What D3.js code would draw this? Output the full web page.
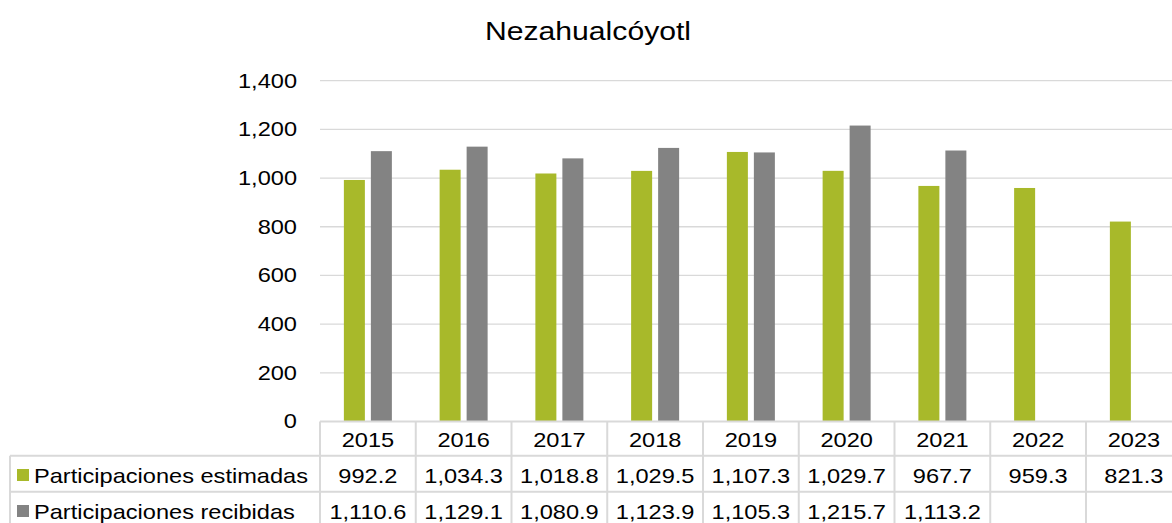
<!DOCTYPE html>
<html><head><meta charset="utf-8">
<script src="https://cdn.jsdelivr.net/npm/d3@7"></script>
<style>body{margin:0;background:#fff;overflow:hidden}svg{display:block;font-family:"Liberation Sans",Arial,sans-serif}</style>
</head><body>
<script>
const title = "Nezahualcóyotl";
const years = ["2015","2016","2017","2018","2019","2020","2021","2022","2023"];
const estimadas = [992.2,1034.3,1018.8,1029.5,1107.3,1029.7,967.7,959.3,821.3];
const recibidas = [1110.6,1129.1,1080.9,1123.9,1105.3,1215.7,1113.2,null,null];
const seriesNames = ["Participaciones estimadas","Participaciones recibidas"];
const seriesColors = ["#A8B92A","#838383"];
const yTicks = [0,200,400,600,800,1000,1200,1400];

const W=1172,H=523, SX=1.18, FS=20;
const svg=d3.select("body").append("svg").attr("width",W).attr("height",H);
const fmtTick=d3.format(",");
const fmtVal=d3.format(",.1f");

function addText(g,x0,y0,anchor,size,txt,sx){
  return g.append("text").attr("transform",`translate(${x0},${y0}) scale(${sx||SX},1)`)
    .attr("text-anchor",anchor).attr("font-size",size).attr("fill","#000").text(txt);
}

const x=d3.scaleBand().domain(years).range([320,1181.75]).paddingInner(0).paddingOuter(0);
const y=d3.scaleLinear().domain([0,1400]).range([421.5,80.7]);
const barW=21, gap=6;

addText(svg,588,39.5,"middle",26,title,1.16);

// gridlines
svg.append("g").selectAll("line").data(yTicks.filter(d=>d>0)).join("line")
  .attr("x1",320).attr("x2",W).attr("y1",d=>y(d)).attr("y2",d=>y(d))
  .attr("stroke","#d9d9d9").attr("stroke-width",1.3);

// y axis labels
const yAxis=d3.axisLeft(y).tickValues(yTicks).tickFormat(fmtTick).tickSize(0).tickPadding(0);
const ga=svg.append("g").attr("transform","translate(297,0)").call(yAxis);
ga.select(".domain").remove();
ga.selectAll("text").attr("font-size",FS).attr("fill","#000")
  .attr("font-family","Liberation Sans, Arial, sans-serif")
  .attr("transform",`scale(${SX},1)`);

// bars
const series=[estimadas,recibidas];
series.forEach((vals,si)=>{
  svg.append("g").selectAll("rect").data(years.map((yr,i)=>({yr,v:vals[i]})).filter(d=>d.v!=null)).join("rect")
    .attr("x",d=>x(d.yr)+x.bandwidth()/2+(si===0?-gap/2-barW:gap/2))
    .attr("width",barW)
    .attr("y",d=>y(d.v)).attr("height",d=>y(0)-y(d.v))
    .attr("fill",seriesColors[si]);
});

// table lines
const lc="#d9d9d9", lw=2;
const rowTop=421.5, r1=455.7, r2=491.7, r3=527.7;
const tl=svg.append("g").attr("stroke",lc).attr("stroke-width",lw);
tl.append("line").attr("x1",320).attr("x2",1181.75).attr("y1",rowTop).attr("y2",rowTop);
[r1,r2,r3].forEach(yy=>tl.append("line").attr("x1",10).attr("x2",1181.75).attr("y1",yy).attr("y2",yy));
years.forEach(yr=>tl.append("line").attr("x1",x(yr)).attr("x2",x(yr)).attr("y1",rowTop).attr("y2",r3));
tl.append("line").attr("x1",1181.75).attr("x2",1181.75).attr("y1",rowTop).attr("y2",r3);
tl.append("line").attr("x1",10).attr("x2",10).attr("y1",r1).attr("y2",r3);

// header years
const gh=svg.append("g");
years.forEach(yr=>addText(gh,x(yr)+x.bandwidth()/2,447,"middle",FS,yr));

// rows
const rowsY=[483,519];
series.forEach((vals,si)=>{
  svg.append("rect").attr("x",17).attr("y",rowsY[si]-14).attr("width",12).attr("height",12).attr("fill",seriesColors[si]);
  addText(svg,34,rowsY[si],"start",FS,seriesNames[si]);
  const g=svg.append("g");
  years.forEach((yr,i)=>{ if(vals[i]!=null) addText(g,x(yr)+x.bandwidth()/2,rowsY[si],"middle",FS,fmtVal(vals[i])); });
});
</script>
</body></html>
